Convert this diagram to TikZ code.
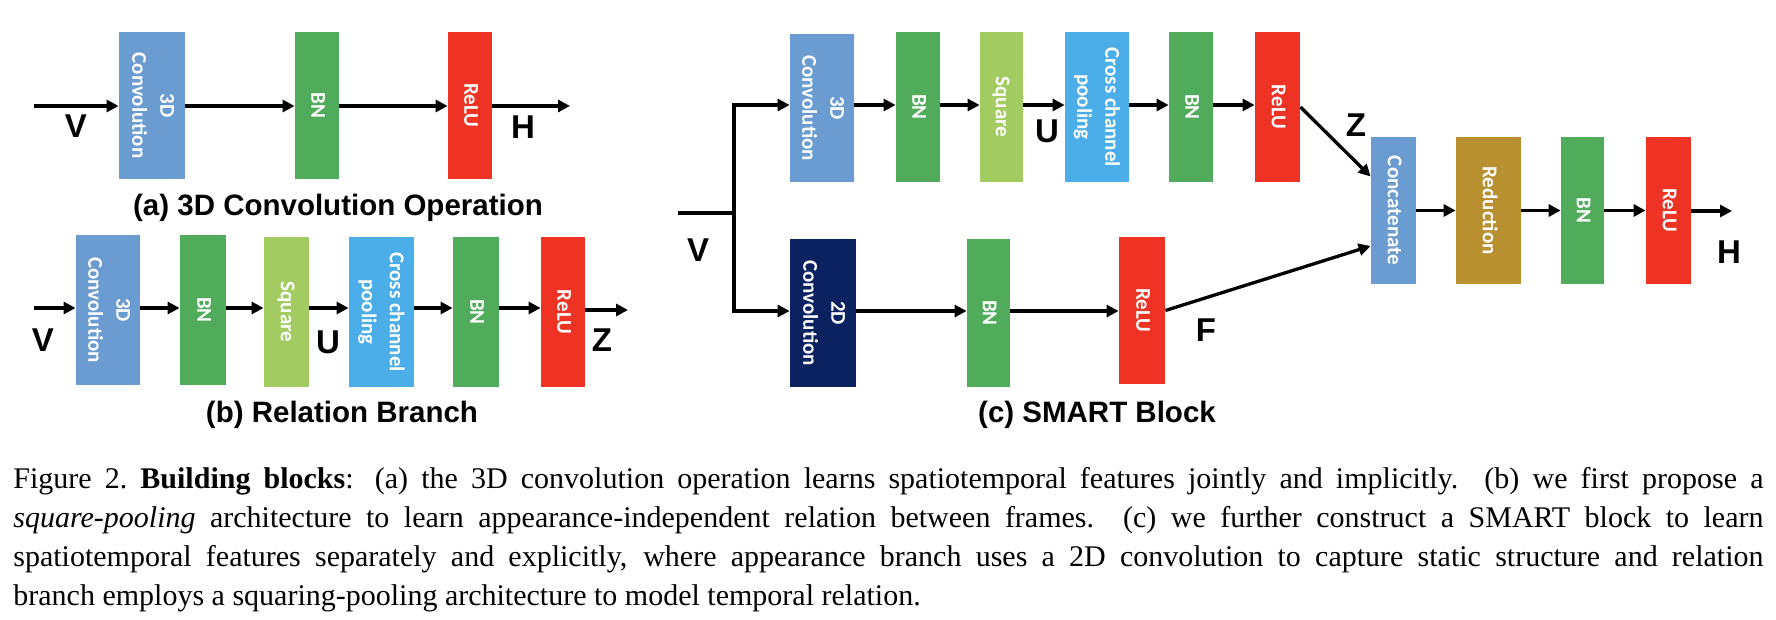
\documentclass[tikz,border=0pt]{standalone}
\usepackage{fontspec}
\setmainfont{Liberation Serif}
\newfontfamily\labsans{Liberation Sans}
\newfontfamily\boxsans{Carlito}
\usetikzlibrary{arrows.meta,calc}
\definecolor{cblue}{RGB}{106,155,209}
\definecolor{cgreen}{RGB}{80,172,90}
\definecolor{cred}{RGB}{238,50,36}
\definecolor{clgreen}{RGB}{162,204,98}
\definecolor{csky}{RGB}{75,174,232}
\definecolor{cnavy}{RGB}{10,35,96}
\definecolor{cgold}{RGB}{184,144,48}
\newcommand\blkbox[7]{%
  \node[blk, fill=#6, minimum width={((#4)-(#2))*0.5pt}, minimum height={((#5)-(#3))*0.5pt}]
    (#1) at ({((#2)+(#4))/2},{((#3)+(#5))/2})
    {\rotatebox{-90}{\begin{tabular}{@{}c@{}}#7\end{tabular}}};}
\begin{document}
\begin{tikzpicture}[x=0.5pt,y=-0.5pt,
  blk/.style={draw=none, inner sep=0pt, text=white, font=\boxsans\bfseries\fontsize{10.5}{14}\selectfont},
  arr/.style={-{Triangle[length=6pt,width=6pt]}, line width=1.65pt},
  ln/.style={line width=1.65pt},
  var/.style={font=\labsans\bfseries\fontsize{16.5}{18}\selectfont, inner sep=0pt},
  subcap/.style={font=\labsans\bfseries\fontsize{14.75}{17}\selectfont, inner sep=0pt}]
\fill[white] (0,0) rectangle (1776,620);
\useasboundingbox (0,0) rectangle (1776,620);

% ---------- (a) ----------
\blkbox{a1}{119}{32}{185}{179}{cblue}{3D\\Convolution}
\blkbox{a2}{295}{32}{339}{179}{cgreen}{BN}
\blkbox{a3}{448}{32}{492}{179}{cred}{ReLU}
\coordinate (ain) at (34,106);
\coordinate (aout) at (570,106);
\draw[arr] (ain) -- (a1.west |- ain);
\draw[arr] (a1.east |- ain) -- (a2.west |- ain);
\draw[arr] (a2.east |- ain) -- (a3.west |- ain);
\draw[arr] (a3.east |- ain) -- (aout);
\node[var] (aV) at (76,126) {V};
\node[var] (aH) at (523,127) {H};
\node[subcap] (acap) at (338,208) {(a) 3D Convolution Operation};

% ---------- (b) ----------
\blkbox{b1}{76}{235}{140}{385}{cblue}{3D\\Convolution}
\blkbox{b2}{180}{235}{226}{385}{cgreen}{BN}
\blkbox{b3}{264}{237}{309}{387}{clgreen}{Square}
\blkbox{b4}{349}{237}{414}{387}{csky}{Cross channel\\pooling}
\blkbox{b5}{453}{237}{499}{387}{cgreen}{BN}
\blkbox{b6}{541}{237}{585}{387}{cred}{ReLU}
\coordinate (bin) at (34,308);
\coordinate (bout) at (628,310);
\draw[arr] (bin) -- (b1.west |- bin);
\draw[arr] (b1.east |- bin) -- (b2.west |- bin);
\draw[arr] (b2.east |- bin) -- (b3.west |- bin);
\draw[arr] (b3.east |- bin) -- (b4.west |- bin);
\draw[arr] (b4.east |- bin) -- (b5.west |- bin);
\draw[arr] (b5.east |- bin) -- (b6.west |- bin);
\draw[arr] (b6.east |- bout) -- (bout);
\node[var] (bV) at (43,340) {V};
\node[var] (bU) at (328,342) {U};
\node[var] (bZ) at (602,340) {Z};
\node[subcap] (bcap) at (342,415) {(b) Relation Branch};

% ---------- (c) ----------
\blkbox{c1}{790}{34}{854}{182}{cblue}{3D\\Convolution}
\blkbox{c2}{896}{32}{940}{182}{cgreen}{BN}
\blkbox{c3}{980}{32}{1023}{182}{clgreen}{Square}
\blkbox{c4}{1065}{32}{1129}{182}{csky}{Cross channel\\pooling}
\blkbox{c5}{1169}{32}{1213}{182}{cgreen}{BN}
\blkbox{c6}{1255}{32}{1300}{182}{cred}{ReLU}
\blkbox{d1}{790}{239}{856}{387}{cnavy}{2D\\Convolution}
\blkbox{d2}{967}{239}{1010}{387}{cgreen}{BN}
\blkbox{d3}{1119}{237}{1165}{384}{cred}{ReLU}
\blkbox{e1}{1371}{137}{1416}{284}{cblue}{Concatenate}
\blkbox{e2}{1456}{137}{1521}{284}{cgold}{Reduction}
\blkbox{e3}{1561}{137}{1604}{284}{cgreen}{BN}
\blkbox{e4}{1646}{137}{1691}{284}{cred}{ReLU}
\coordinate (cin) at (678,213);
\coordinate (cj) at (734,213);
\coordinate (crow) at (0,105);
\coordinate (drow) at (0,311);
\coordinate (cout) at (1732,211);
\draw[ln] (cin) -- (cj);
\draw[arr, line join=miter] (cj) |- (c1.west |- crow);
\draw[arr, line join=miter] (cj) |- (d1.west |- drow);
\draw[arr] (c1.east |- crow) -- (c2.west |- crow);
\draw[arr] (c2.east |- crow) -- (c3.west |- crow);
\draw[arr] (c3.east |- crow) -- (c4.west |- crow);
\draw[arr] (c4.east |- crow) -- (c5.west |- crow);
\draw[arr] (c5.east |- crow) -- (c6.west |- crow);
\draw[arr] (d1.east |- drow) -- (d2.west |- drow);
\draw[arr] (d2.east |- drow) -- (d3.west |- drow);
\draw[arr] (c6.east) -- ($(e1.north west)!0.27!(e1.south west)$);
\draw[arr] (d3.east) -- ($(e1.north west)!0.74!(e1.south west)$);
\draw[arr] (e1) -- (e2);
\draw[arr] (e2) -- (e3);
\draw[arr] (e3) -- (e4);
\draw[arr] (e4.east |- cout) -- (cout);
\node[var] (cV) at (698,250) {V};
\node[var] (cU) at (1047,131) {U};
\node[var] (cZ) at (1356,125) {Z};
\node[var] (cF) at (1206,330) {F};
\node[var] (cH) at (1729,252) {H};
\node[subcap] (ccap) at (1097,415) {(c) SMART Block};

% ---------- figure caption ----------
\node[anchor=north west, inner sep=0pt, align=left, font=\fontsize{15}{19.5}\selectfont] (figcap) at (13,467)
{\makebox[875pt][s]{Figure 2.\ \textbf{Building blocks}: (a) the 3D convolution operation learns spatiotemporal features jointly and implicitly.\ \ (b) we first propose a}\\
\makebox[875pt][s]{\textit{square-pooling} architecture to learn appearance-independent relation between frames.\ \ (c) we further construct a SMART block to learn}\\
\makebox[875pt][s]{spatiotemporal features separately and explicitly, where appearance branch uses a 2D convolution to capture static structure and relation}\\
branch employs a squaring-pooling architecture to model temporal relation.};
\end{tikzpicture}
\end{document}
